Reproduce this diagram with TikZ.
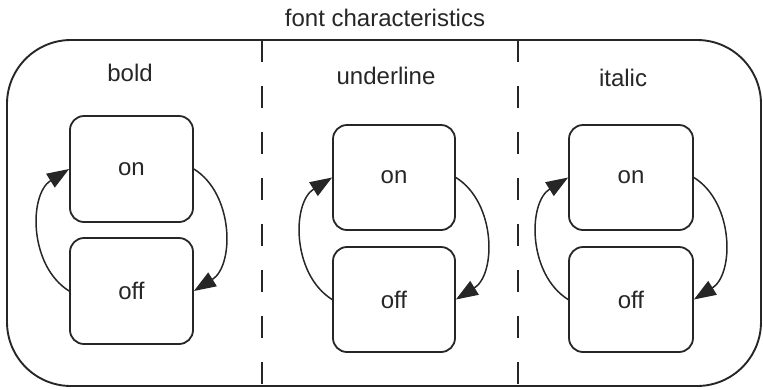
\documentclass[tikz,border=0pt]{standalone}
\usepackage{fontspec}
\setmainfont{Liberation Sans}
\usetikzlibrary{arrows.meta}
\begin{document}
\begin{tikzpicture}[x=1pt,y=-1pt,
  every node/.style={font=\fontsize{24}{28}\selectfont, text=black!85},
  frame/.style={draw=black!85, line width=1.9pt, rounded corners=64pt},
  divider/.style={draw=black!85, line width=1.8pt, dash pattern=on 22pt off 24pt},
  state/.style={draw=black!85, line width=1.8pt, rounded corners=14pt},
  trans/.style={draw=black!85, line width=1.5pt, bend left=58,
    -{Triangle[length=22pt,width=16pt]}}
]
\useasboundingbox (0,0) rectangle (763,389);

% outer composite state
\draw[frame] (7,40) rectangle (761,386);
\node (title) at (385,18) {font characteristics};

% region separators
\coordinate (d1t) at (262,40);  \coordinate (d1b) at (262,386);
\coordinate (d2t) at (518,40);  \coordinate (d2b) at (518,386);
\draw[divider] (d1t) -- (d1b);
\draw[divider] (d2t) -- (d2b);

% region labels
\node (lbold) at (130,73) {bold};
\node (lunder) at (386,76) {underline};
\node (litalic) at (623,78) {italic};

% bold region
\node[state, minimum width=123pt, minimum height=106pt] (on1) at (131.5,169) {on};
\node[state, minimum width=123pt, minimum height=106pt] (off1) at (131.5,291) {off};
% underline region
\node[state, minimum width=122pt, minimum height=105pt] (on2) at (394,177.5) {on};
\node[state, minimum width=122pt, minimum height=105pt] (off2) at (394,299.5) {off};
% italic region
\node[state, minimum width=124pt, minimum height=105pt] (on3) at (631,177.5) {on};
\node[state, minimum width=124pt, minimum height=105pt] (off3) at (631,299.5) {off};

% transitions
\draw[trans] (off1.west) to (on1.west);
\draw[trans] (on1.east) to (off1.east);
\draw[trans] (off2.west) to (on2.west);
\draw[trans] (on2.east) to (off2.east);
\draw[trans] (off3.west) to (on3.west);
\draw[trans] (on3.east) to (off3.east);
\end{tikzpicture}
\end{document}
